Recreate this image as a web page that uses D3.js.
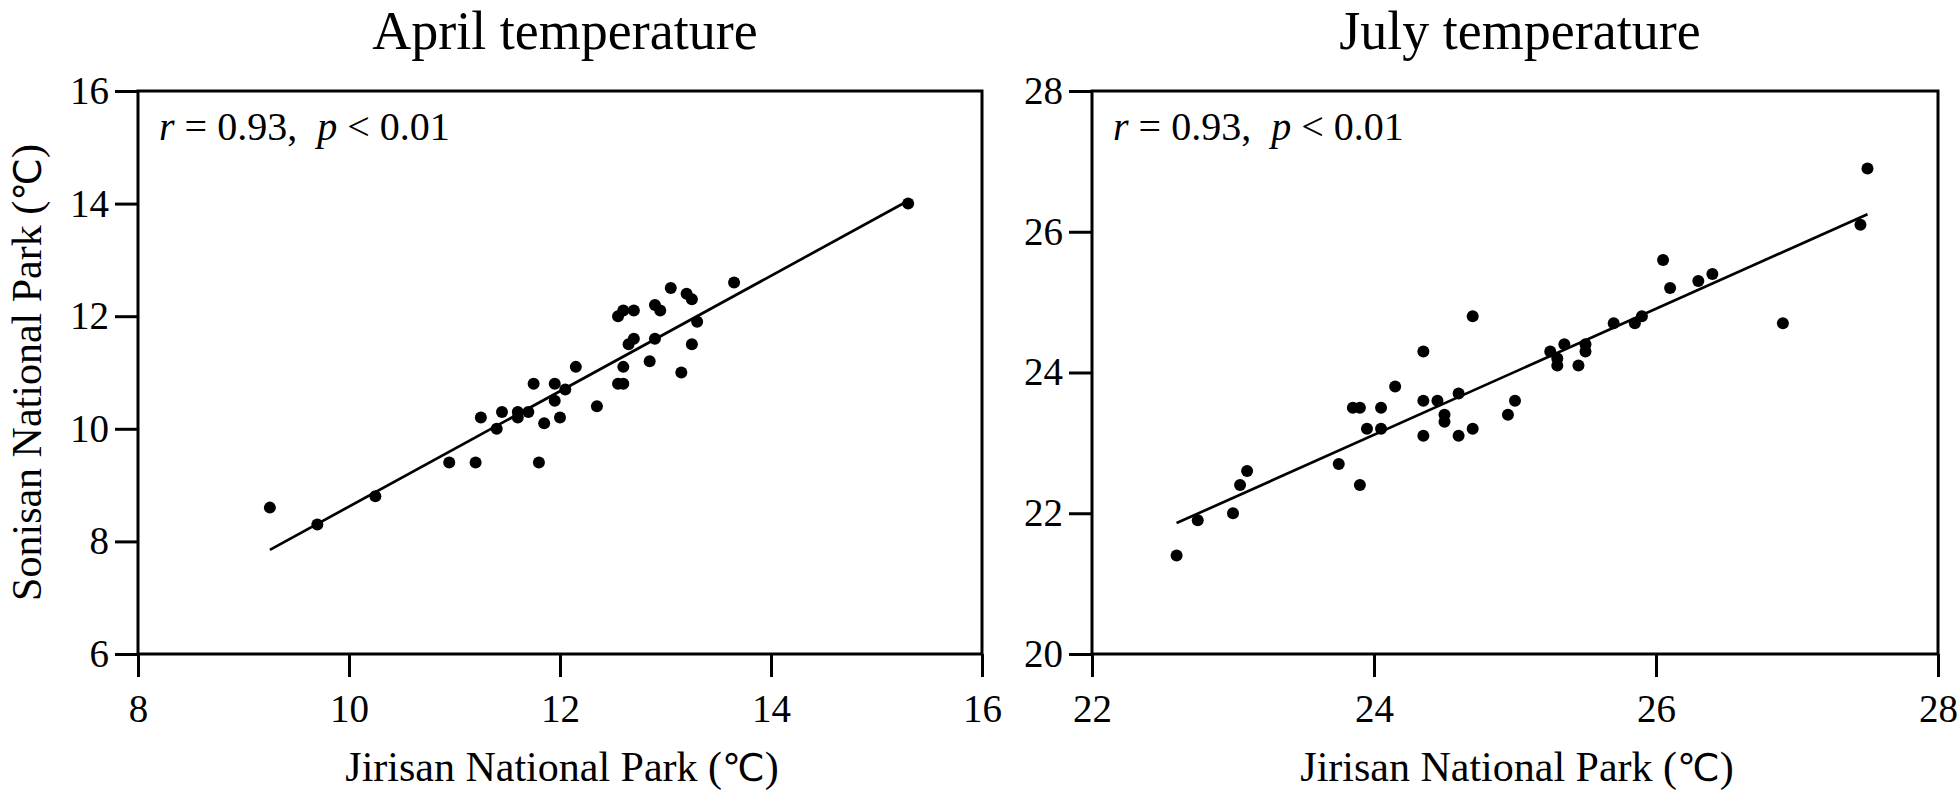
<!DOCTYPE html>
<html>
<head>
<meta charset="utf-8">
<script src="https://cdn.jsdelivr.net/npm/d3@7/dist/d3.min.js"></script>
<style>
  html, body { margin: 0; padding: 0; background: #fff; }
  svg { display: block; }
  text { font-family: "Liberation Serif", "Times New Roman", serif; fill: #000; }
</style>
</head>
<body>
<svg id="chart" width="1960" height="796"></svg>
<script>
// ---------- data ----------
const panelTitles = ["April temperature", "July temperature"];
const xAxisTitle = "Jirisan National Park (";
const yAxisTitle = "Sonisan National Park (";
const degreeSymbol = "℃";
const statText = ["r", " = 0.93,  ", "p", " < 0.01"];

const aprilDomainX = [8, 16];
const aprilDomainY = [6, 16];
const aprilTicksX = [8, 10, 12, 14, 16];
const aprilTicksY = [6, 8, 10, 12, 14, 16];

const julyDomainX = [22, 28];
const julyDomainY = [20, 28];
const julyTicksX = [22, 24, 26, 28];
const julyTicksY = [20, 22, 24, 26, 28];

// Jirisan (x) values, April
const aprilJirisan = [9.25, 9.7, 10.25, 10.95, 11.2, 11.8, 11.25, 11.4, 11.45, 11.6,
  11.6, 11.7, 11.85, 11.75, 11.95, 11.95, 12.0, 12.05, 12.15, 12.35,
  12.55, 12.6, 12.6, 12.65, 12.7, 12.55, 12.6, 12.7, 12.85, 12.9,
  12.9, 12.95, 13.05, 13.15, 13.2, 13.25, 13.25, 13.3, 13.65, 15.3];
// Sonisan (y) values, April
const aprilSonisan = [8.6, 8.3, 8.8, 9.4, 9.4, 9.4, 10.2, 10.0, 10.3, 10.3,
  10.2, 10.3, 10.1, 10.8, 10.8, 10.5, 10.2, 10.7, 11.1, 10.4,
  10.8, 10.8, 11.1, 11.5, 11.6, 12.0, 12.1, 12.1, 11.2, 11.6,
  12.2, 12.1, 12.5, 11.0, 12.4, 12.3, 11.5, 11.9, 12.6, 14.0];
const aprilFitX = [9.25, 15.3];
const aprilFitY = [7.85, 14.05];

// Jirisan (x) values, July
const julyJirisan = [22.6, 22.75, 23.0, 23.05, 23.1, 23.75, 23.9, 23.85, 23.9, 23.95,
  24.05, 24.05, 24.15, 24.35, 24.35, 24.35, 24.45, 24.5, 24.5, 24.6,
  24.6, 24.7, 24.7, 24.95, 25.0, 25.25, 25.3, 25.3, 25.35, 25.45,
  25.5, 25.5, 25.7, 25.85, 25.9, 26.05, 26.1, 26.3, 26.4, 26.9,
  27.45, 27.5];
// Sonisan (y) values, July
const julySonisan = [21.4, 21.9, 22.0, 22.4, 22.6, 22.7, 22.4, 23.5, 23.5, 23.2,
  23.5, 23.2, 23.8, 24.3, 23.6, 23.1, 23.6, 23.4, 23.3, 23.7,
  23.1, 24.8, 23.2, 23.4, 23.6, 24.3, 24.2, 24.1, 24.4, 24.1,
  24.4, 24.3, 24.7, 24.7, 24.8, 25.6, 25.2, 25.3, 25.4, 24.7,
  26.1, 26.9];
const julyFitX = [22.6, 27.5];
const julyFitY = [21.86, 26.25];

// ---------- layout ----------
const svg = d3.select("#chart");
const plotTop = 91, plotBottom = 654;
const degFont = "DejaVu Sans, Noto Sans CJK SC, sans-serif";

const panels = [
  { title: panelTitles[0], left: 138, right: 982, dx: aprilDomainX, dy: aprilDomainY,
    tx: aprilTicksX, ty: aprilTicksY, xs: aprilJirisan, ys: aprilSonisan,
    fx: aprilFitX, fy: aprilFitY, yLabel: true },
  { title: panelTitles[1], left: 1092, right: 1938, dx: julyDomainX, dy: julyDomainY,
    tx: julyTicksX, ty: julyTicksY, xs: julyJirisan, ys: julySonisan,
    fx: julyFitX, fy: julyFitY, yLabel: false }
];

panels.forEach(p => {
  const x = d3.scaleLinear().domain(p.dx).range([p.left, p.right]);
  const y = d3.scaleLinear().domain(p.dy).range([plotBottom, plotTop]);
  const g = svg.append("g");

  // x axis
  const xAxis = g.append("g")
    .attr("transform", `translate(0,${plotBottom})`)
    .call(d3.axisBottom(x).tickValues(p.tx).tickFormat(d3.format("d"))
      .tickSizeInner(23).tickSizeOuter(0).tickPadding(17));
  xAxis.select(".domain").remove();
  xAxis.selectAll(".tick line").attr("stroke", "#000").attr("stroke-width", 3);
  xAxis.selectAll(".tick text").attr("font-size", 39)
    .attr("font-family", "Liberation Serif").attr("fill", "#000");

  // y axis
  const yAxis = g.append("g")
    .attr("transform", `translate(${p.left},0)`)
    .call(d3.axisLeft(y).tickValues(p.ty).tickFormat(d3.format("d"))
      .tickSizeInner(23).tickSizeOuter(0).tickPadding(6));
  yAxis.select(".domain").remove();
  yAxis.selectAll(".tick line").attr("stroke", "#000").attr("stroke-width", 3);
  yAxis.selectAll(".tick text").attr("font-size", 39)
    .attr("font-family", "Liberation Serif").attr("fill", "#000");

  // frame
  g.append("rect")
    .attr("x", p.left).attr("y", plotTop)
    .attr("width", p.right - p.left).attr("height", plotBottom - plotTop)
    .attr("fill", "none").attr("stroke", "#000").attr("stroke-width", 3);

  // regression line
  g.append("line")
    .attr("x1", x(p.fx[0])).attr("y1", y(p.fy[0]))
    .attr("x2", x(p.fx[1])).attr("y2", y(p.fy[1]))
    .attr("stroke", "#000").attr("stroke-width", 2.7);

  // points
  g.selectAll("circle.pt").data(p.xs.map((v, i) => [v, p.ys[i]]))
    .enter().append("circle").attr("class", "pt")
    .attr("cx", d => x(d[0])).attr("cy", d => y(d[1]))
    .attr("r", 6).attr("fill", "#000");

  // title
  const cx = (p.left + p.right) / 2;
  g.append("text").attr("x", cx + 5).attr("y", 49)
    .attr("text-anchor", "middle").attr("font-size", 54)
    .text(p.title);

  // statistic annotation
  const st = g.append("text").attr("x", p.left + 21).attr("y", 140)
    .attr("font-size", 40).style("white-space", "pre");
  st.append("tspan").attr("font-style", "italic").text(statText[0]);
  st.append("tspan").text(statText[1]);
  st.append("tspan").attr("font-style", "italic").text(statText[2]);
  st.append("tspan").text(statText[3]);

  // x axis title
  const xt = g.append("text").attr("x", cx + 2).attr("y", 781)
    .attr("text-anchor", "middle").attr("font-size", 42);
  xt.append("tspan").text(xAxisTitle);
  xt.append("tspan").attr("font-family", degFont).attr("font-size", 38).text(degreeSymbol);
  xt.append("tspan").text(")");

  // y axis title
  if (p.yLabel) {
    const yt = g.append("text")
      .attr("transform", `translate(41,${(plotTop + plotBottom) / 2}) rotate(-90)`)
      .attr("text-anchor", "middle").attr("font-size", 42);
    yt.append("tspan").text(yAxisTitle);
    yt.append("tspan").attr("font-family", degFont).attr("font-size", 38).text(degreeSymbol);
    yt.append("tspan").text(")");
  }
});
</script>
</body>
</html>
